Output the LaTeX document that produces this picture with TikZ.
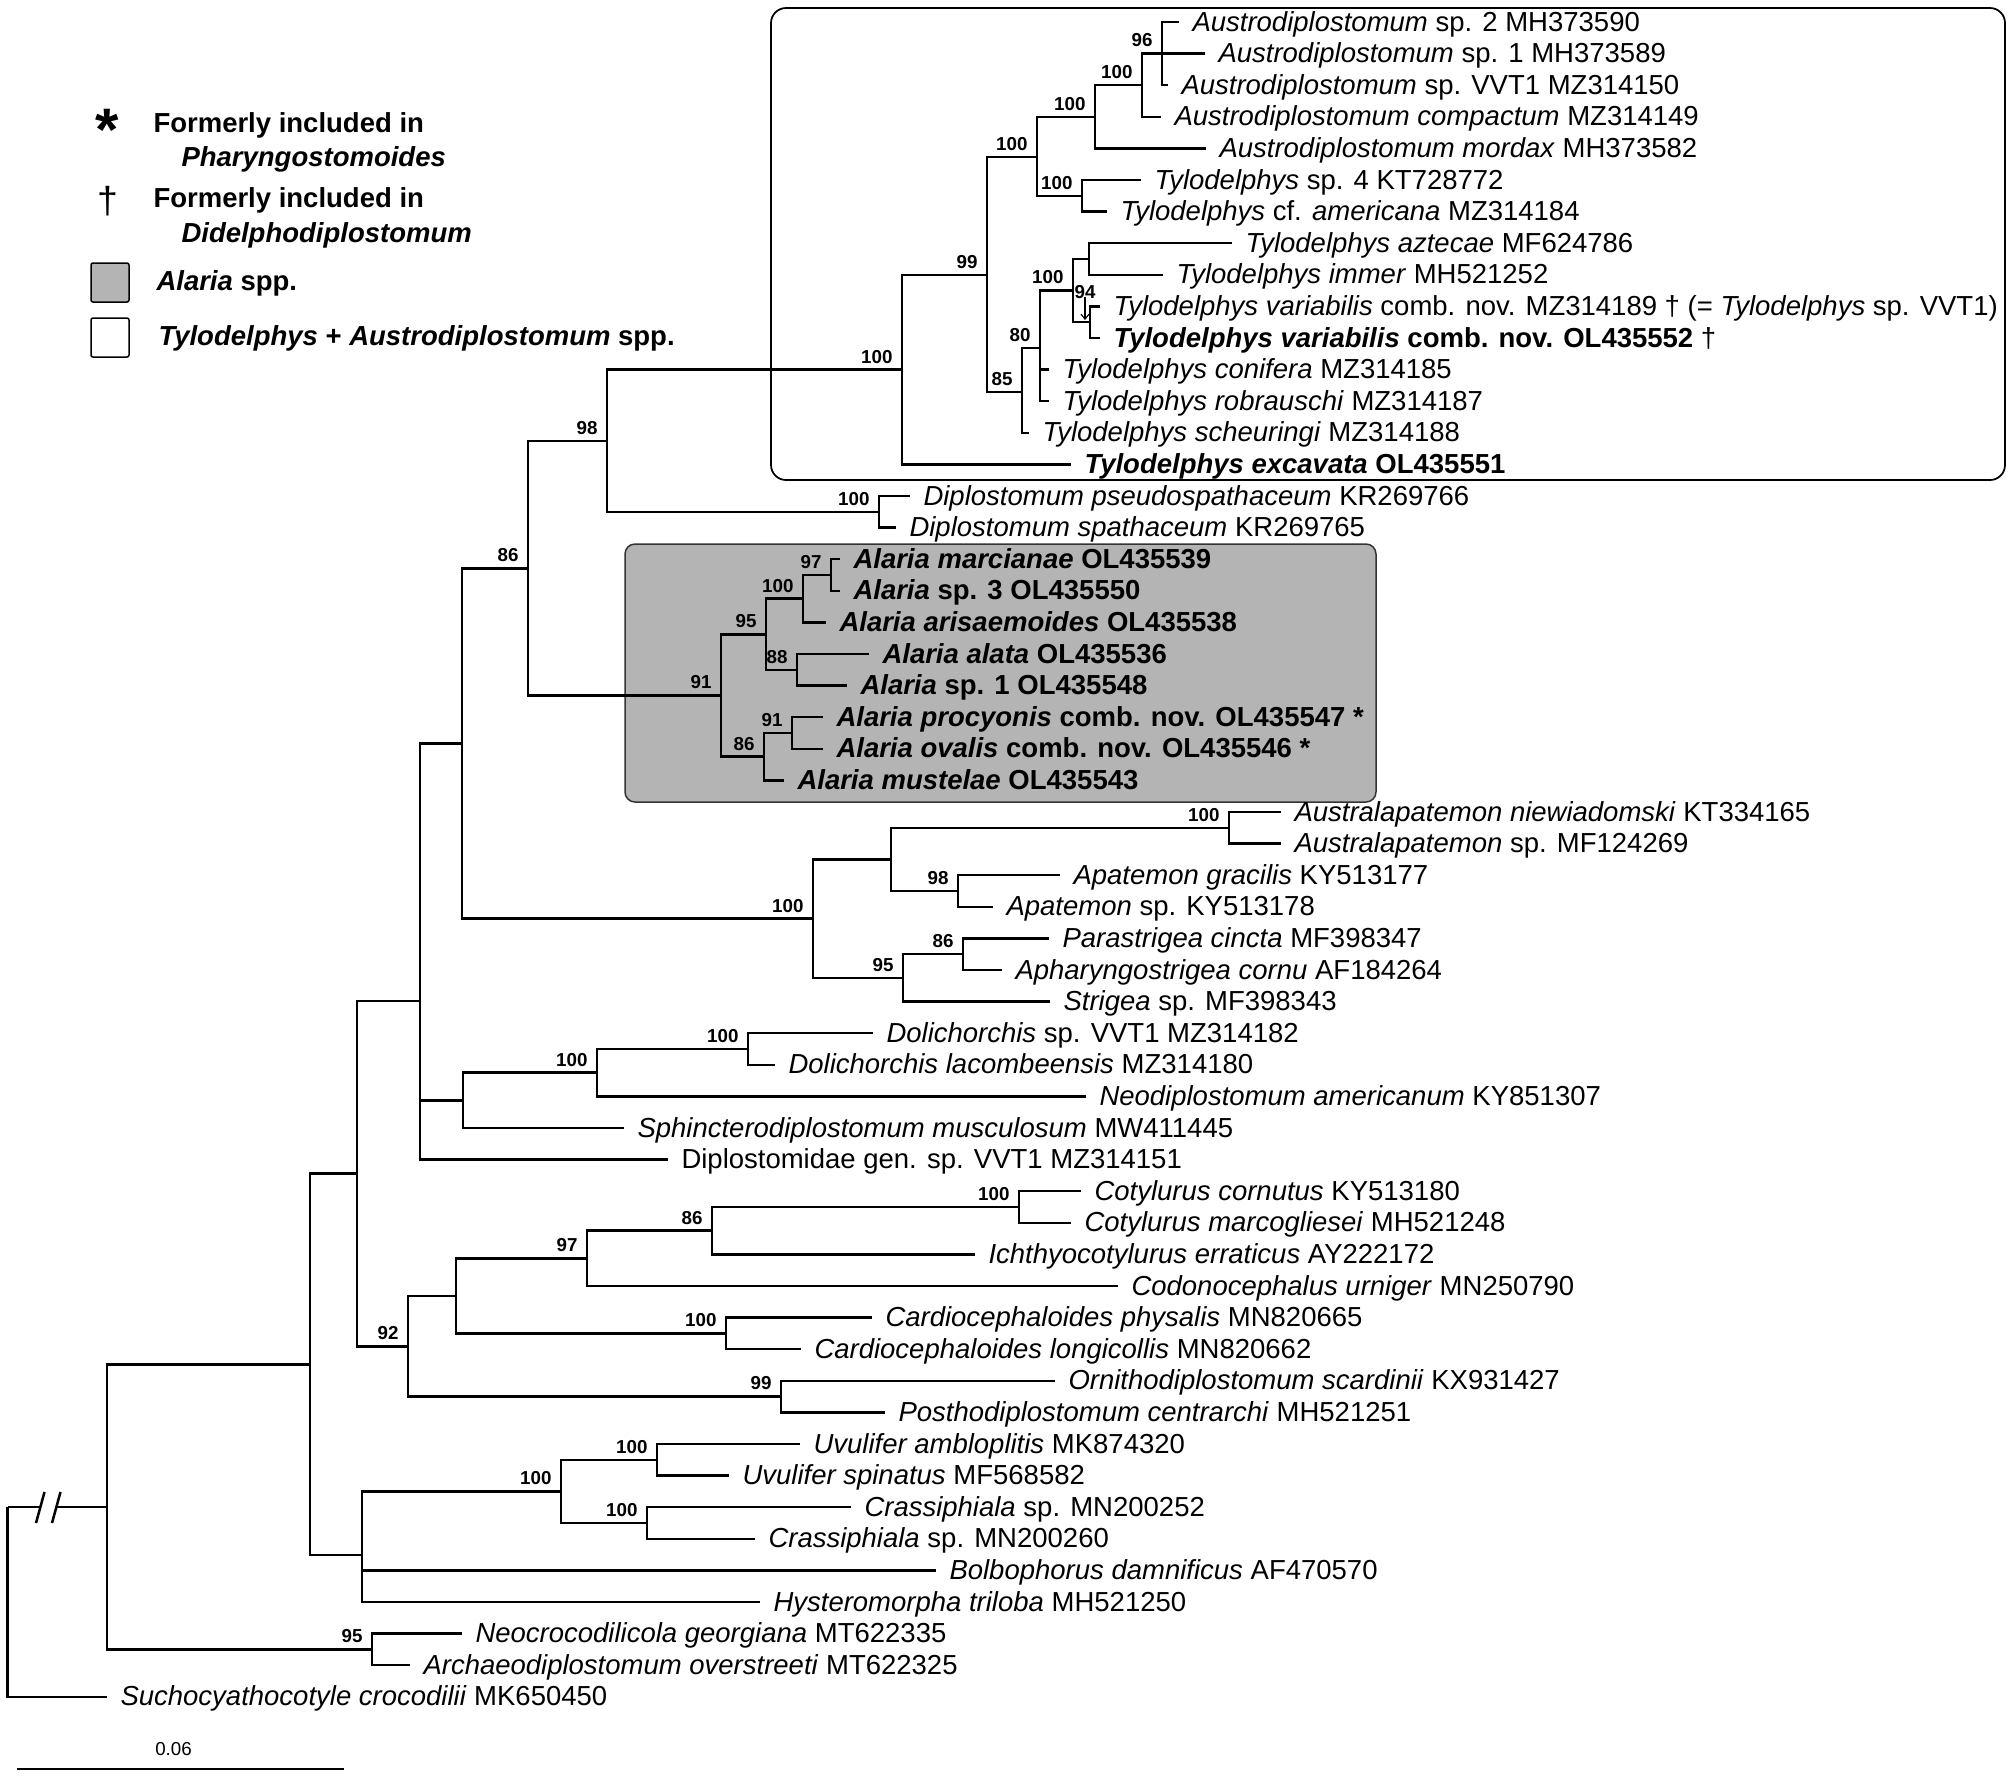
\documentclass[tikz,border=0pt]{standalone}
\usepackage{fontspec}
\setmainfont{Liberation Sans}
\usetikzlibrary{arrows.meta}
\definecolor{boxgray}{RGB}{180,180,180}
\tikzset{
  br/.style={line width=1pt, line join=miter},
  leaflab/.style={anchor=base west, inner sep=0pt, font=\fontsize{11}{13}\selectfont},
  suplab/.style={anchor=south east, inner sep=0pt, font=\fontsize{7.5}{8}\selectfont\bfseries},
  legtext/.style={anchor=base west, inner sep=0pt, font=\fontsize{11}{13}\selectfont\bfseries},
}
\newcommand\lfn[4]{\coordinate (#1) at (#2,#3); \node[leaflab] (#1t) at ([xshift=5.2pt,yshift=-3.6pt]#1) {#4};}
\newcommand\spt[2]{\node[suplab] (s#1) at ([xshift=-3.6pt,yshift=2.4pt]#1) {#2};}
\begin{document}
\begin{tikzpicture}[x=0.4pt,y=-0.4pt]
\useasboundingbox (0,0) rectangle (2013,1776);
\fill[white] (0,0) rectangle (2013,1776);
% boxes
\coordinate (tbA) at (771,8); \coordinate (tbB) at (2005,480);
\draw[line width=0.7pt, fill=white, rounded corners=6pt] (tbA) rectangle (tbB);
\coordinate (abA) at (625,544); \coordinate (abB) at (1376,802);
\draw[line width=0.6pt, draw=black!80, fill=boxgray, rounded corners=4pt] (abA) rectangle (abB);
% legend
\node[anchor=base, inner sep=0pt, font=\fontsize{24}{24}\selectfont\bfseries] (star) at (107,150) {*};
\node[legtext] (lg1) at (153,132) {Formerly included in};
\node[legtext] (lg2) at (181,166) {\textit{Pharyngostomoides}};
\node[anchor=base, inner sep=0pt, font=\fontsize{15}{15}\selectfont] (dag) at (107.5,213) {†};
\node[legtext] (lg3) at (153,207) {Formerly included in};
\node[legtext] (lg4) at (181,242) {\textit{Didelphodiplostomum}};
\coordinate (gbA) at (91,263); \coordinate (gbB) at (129,302);
\draw[line width=0.6pt, fill=boxgray, rounded corners=0.8pt] (gbA) rectangle (gbB);
\node[legtext] (lg5) at (156,290) {\textit{Alaria} spp.};
\coordinate (wbA) at (91,318); \coordinate (wbB) at (129,357);
\draw[line width=0.6pt, fill=white, rounded corners=0.8pt] (wbA) rectangle (wbB);
\node[legtext] (lg6) at (158,345) {\textit{Tylodelphys} + \textit{Austrodiplostomum} spp.};
% internal nodes
\coordinate (r) at (7.5,1507);
\coordinate (n1) at (107,1507);
\coordinate (n2) at (310,1364.4);
\coordinate (n3) at (357,1173.7);
\coordinate (n5) at (420,1001);
\coordinate (p) at (462,743.6);
\coordinate (nx) at (528,568.5);
\coordinate (n98) at (607,441);
\coordinate (n100t) at (902,369.7);
\coordinate (n99) at (987,275);
\coordinate (n100a) at (1037,157);
\coordinate (n100b) at (1095,116.8);
\coordinate (n100c) at (1142,85.2);
\coordinate (n96) at (1162,53.6);
\coordinate (n100d) at (1082,195.8);
\coordinate (n85) at (1022,392);
\coordinate (n80) at (1040,348);
\coordinate (n100e) at (1073,290.6);
\coordinate (nai) at (1089,259);
\coordinate (n94) at (1090,322.2);
\coordinate (n100dip) at (879,511.8);
\coordinate (n91) at (721,695.6);
\coordinate (n95a) at (766,634.5);
\coordinate (n100al) at (803,598.7);
\coordinate (n97al) at (831,575);
\coordinate (n88) at (797,669.8);
\coordinate (n86a) at (764,756.7);
\coordinate (n91b) at (792,733);
\coordinate (n100s) at (813,918.7);
\coordinate (nap) at (891,859.5);
\coordinate (n100aus) at (1229,827.8);
\coordinate (n98ap) at (958,891);
\coordinate (n95s) at (903,977.9);
\coordinate (n86s) at (963,954.2);
\coordinate (n6) at (463,1100.3);
\coordinate (n100dd) at (597,1072.7);
\coordinate (n100dol) at (748,1049);
\coordinate (n92) at (408,1346.3);
\coordinate (na) at (456,1295.9);
\coordinate (n97) at (587,1258.4);
\coordinate (n86c) at (712,1230.7);
\coordinate (n100cot) at (1019,1207);
\coordinate (n100cd) at (726,1333.4);
\coordinate (n99o) at (781,1396.6);
\coordinate (n4) at (362,1555);
\coordinate (n100u) at (561,1491.4);
\coordinate (n100v) at (657,1459.8);
\coordinate (n100w) at (647,1523);
\coordinate (n95c) at (372,1649.4);
% leaves
\lfn{l0}{1179}{22}{\textit{Austrodiplostomum} sp. 2 MH373590}
\lfn{l1}{1205}{53.6}{\textit{Austrodiplostomum} sp. 1 MH373589}
\lfn{l2}{1168}{85.2}{\textit{Austrodiplostomum} sp. VVT1 MZ314150}
\lfn{l3}{1161}{116.8}{\textit{Austrodiplostomum compactum} MZ314149}
\lfn{l4}{1206}{148.4}{\textit{Austrodiplostomum mordax} MH373582}
\lfn{l5}{1141}{180}{\textit{Tylodelphys} sp. 4 KT728772}
\lfn{l6}{1107}{211.6}{\textit{Tylodelphys} cf. \textit{americana} MZ314184}
\lfn{l7}{1232}{243.2}{\textit{Tylodelphys aztecae} MF624786}
\lfn{l8}{1163}{274.8}{\textit{Tylodelphys immer} MH521252}
\lfn{l9}{1100}{306.4}{\textit{Tylodelphys variabilis} comb. nov. MZ314189 † (= \textit{Tylodelphys} sp. VVT1)}
\lfn{l10}{1100}{338}{\textbf{\textit{Tylodelphys variabilis} comb. nov. OL435552} †}
\lfn{l11}{1049}{369.6}{\textit{Tylodelphys conifera} MZ314185}
\lfn{l12}{1049}{401.2}{\textit{Tylodelphys robrauschi} MZ314187}
\lfn{l13}{1029}{432.8}{\textit{Tylodelphys scheuringi} MZ314188}
\lfn{l14}{1071}{464.4}{\textbf{\textit{Tylodelphys excavata} OL435551}}
\lfn{l15}{910}{496}{\textit{Diplostomum pseudospathaceum} KR269766}
\lfn{l16}{896}{527.6}{\textit{Diplostomum spathaceum} KR269765}
\lfn{l17}{840}{559.2}{\textbf{\textit{Alaria marcianae} OL435539}}
\lfn{l18}{840}{590.8}{\textbf{\textit{Alaria} sp. 3 OL435550}}
\lfn{l19}{826}{622.4}{\textbf{\textit{Alaria arisaemoides} OL435538}}
\lfn{l20}{869}{654}{\textbf{\textit{Alaria alata} OL435536}}
\lfn{l21}{847}{685.6}{\textbf{\textit{Alaria} sp. 1 OL435548}}
\lfn{l22}{823}{717.2}{\textbf{\textit{Alaria procyonis} comb. nov. OL435547 *}}
\lfn{l23}{823}{748.8}{\textbf{\textit{Alaria ovalis} comb. nov. OL435546 *}}
\lfn{l24}{784}{780.4}{\textbf{\textit{Alaria mustelae} OL435543}}
\lfn{l25}{1281}{812}{\textit{Australapatemon niewiadomski} KT334165}
\lfn{l26}{1281}{843.6}{\textit{Australapatemon} sp. MF124269}
\lfn{l27}{1060}{875.2}{\textit{Apatemon gracilis} KY513177}
\lfn{l28}{993}{906.8}{\textit{Apatemon} sp. KY513178}
\lfn{l29}{1049}{938.4}{\textit{Parastrigea cincta} MF398347}
\lfn{l30}{1002}{970}{\textit{Apharyngostrigea cornu} AF184264}
\lfn{l31}{1050}{1001.6}{\textit{Strigea} sp. MF398343}
\lfn{l32}{873}{1033.2}{\textit{Dolichorchis} sp. VVT1 MZ314182}
\lfn{l33}{775}{1064.8}{\textit{Dolichorchis lacombeensis} MZ314180}
\lfn{l34}{1086}{1096.4}{\textit{Neodiplostomum americanum} KY851307}
\lfn{l35}{624}{1128}{\textit{Sphincterodiplostomum musculosum} MW411445}
\lfn{l36}{668}{1159.6}{Diplostomidae gen. sp. VVT1 MZ314151}
\lfn{l37}{1081}{1191.2}{\textit{Cotylurus cornutus} KY513180}
\lfn{l38}{1071}{1222.8}{\textit{Cotylurus marcogliesei} MH521248}
\lfn{l39}{975}{1254.4}{\textit{Ichthyocotylurus erraticus} AY222172}
\lfn{l40}{1118}{1286}{\textit{Codonocephalus urniger} MN250790}
\lfn{l41}{872}{1317.6}{\textit{Cardiocephaloides physalis} MN820665}
\lfn{l42}{801}{1349.2}{\textit{Cardiocephaloides longicollis} MN820662}
\lfn{l43}{1055}{1380.8}{\textit{Ornithodiplostomum scardinii} KX931427}
\lfn{l44}{885}{1412.4}{\textit{Posthodiplostomum centrarchi} MH521251}
\lfn{l45}{800}{1444}{\textit{Uvulifer ambloplitis} MK874320}
\lfn{l46}{729}{1475.6}{\textit{Uvulifer spinatus} MF568582}
\lfn{l47}{851}{1507.2}{\textit{Crassiphiala} sp. MN200252}
\lfn{l48}{755}{1538.8}{\textit{Crassiphiala} sp. MN200260}
\lfn{l49}{936}{1570.4}{\textit{Bolbophorus damnificus} AF470570}
\lfn{l50}{760}{1602}{\textit{Hysteromorpha triloba} MH521250}
\lfn{l51}{462}{1633.6}{\textit{Neocrocodilicola georgiana} MT622335}
\lfn{l52}{410}{1665.2}{\textit{Archaeodiplostomum overstreeti} MT622325}
\lfn{l53}{107}{1696.8}{\textit{Suchocyathocotyle crocodilii} MK650450}
% branches
\coordinate (bk1) at (40,1507); \coordinate (bk2) at (57,1507);
\draw[br] (r) -- (bk1);
\draw[br] (bk2) -- (n1);
\coordinate (sl1a) at (36,1523); \coordinate (sl1b) at (44.5,1492);
\coordinate (sl2a) at (52,1523); \coordinate (sl2b) at (60.5,1492);
\draw[br] (sl1a) -- (sl1b);
\draw[br] (sl2a) -- (sl2b);
\draw[br] (r) |- (l53);
\draw[br] (n1) |- (n2); \draw[br] (n1) |- (n95c);
\draw[br] (n2) |- (n3); \draw[br] (n2) |- (n4);
\draw[br] (n3) |- (n5); \draw[br] (n3) |- (n92);
\draw[br] (n5) |- (p); \draw[br] (n5) |- (n6); \draw[br] (n5) |- (l36);
\draw[br] (p) |- (nx); \draw[br] (p) |- (n100s);
\draw[br] (nx) |- (n98); \draw[br] (nx) |- (n91);
\draw[br] (n98) |- (n100t); \draw[br] (n98) |- (n100dip);
\draw[br] (n100t) |- (n99); \draw[br] (n100t) |- (l14);
\draw[br] (n99) |- (n100a); \draw[br] (n99) |- (n85);
\draw[br] (n100a) |- (n100b); \draw[br] (n100a) |- (n100d);
\draw[br] (n100b) |- (n100c); \draw[br] (n100b) |- (l4);
\draw[br] (n100c) |- (n96); \draw[br] (n100c) |- (l3);
\draw[br] (n96) |- (l0); \draw[br] (n96) |- (l1); \draw[br] (n96) |- (l2);
\draw[br] (n100d) |- (l5); \draw[br] (n100d) |- (l6);
\draw[br] (n85) |- (n80); \draw[br] (n85) |- (l13);
\draw[br] (n80) |- (n100e); \draw[br] (n80) |- (l11); \draw[br] (n80) |- (l12);
\draw[br] (n100e) |- (nai); \draw[br] (n100e) |- (n94);
\draw[br] (nai) |- (l7); \draw[br] (nai) |- (l8);
\draw[br] (n94) |- (l9); \draw[br] (n94) |- (l10);
\draw[br] (n100dip) |- (l15); \draw[br] (n100dip) |- (l16);
\draw[br] (n91) |- (n95a); \draw[br] (n91) |- (n86a);
\draw[br] (n95a) |- (n100al); \draw[br] (n95a) |- (n88);
\draw[br] (n100al) |- (n97al); \draw[br] (n100al) |- (l19);
\draw[br] (n97al) |- (l17); \draw[br] (n97al) |- (l18);
\draw[br] (n88) |- (l20); \draw[br] (n88) |- (l21);
\draw[br] (n86a) |- (n91b); \draw[br] (n86a) |- (l24);
\draw[br] (n91b) |- (l22); \draw[br] (n91b) |- (l23);
\draw[br] (n100s) |- (nap); \draw[br] (n100s) |- (n95s);
\draw[br] (nap) |- (n100aus); \draw[br] (nap) |- (n98ap);
\draw[br] (n100aus) |- (l25); \draw[br] (n100aus) |- (l26);
\draw[br] (n98ap) |- (l27); \draw[br] (n98ap) |- (l28);
\draw[br] (n95s) |- (n86s); \draw[br] (n95s) |- (l31);
\draw[br] (n86s) |- (l29); \draw[br] (n86s) |- (l30);
\draw[br] (n6) |- (n100dd); \draw[br] (n6) |- (l35);
\draw[br] (n100dd) |- (n100dol); \draw[br] (n100dd) |- (l34);
\draw[br] (n100dol) |- (l32); \draw[br] (n100dol) |- (l33);
\draw[br] (n92) |- (na); \draw[br] (n92) |- (n99o);
\draw[br] (na) |- (n97); \draw[br] (na) |- (n100cd);
\draw[br] (n97) |- (n86c); \draw[br] (n97) |- (l40);
\draw[br] (n86c) |- (n100cot); \draw[br] (n86c) |- (l39);
\draw[br] (n100cot) |- (l37); \draw[br] (n100cot) |- (l38);
\draw[br] (n100cd) |- (l41); \draw[br] (n100cd) |- (l42);
\draw[br] (n99o) |- (l43); \draw[br] (n99o) |- (l44);
\draw[br] (n4) |- (n100u); \draw[br] (n4) |- (l49); \draw[br] (n4) |- (l50);
\draw[br] (n100u) |- (n100v); \draw[br] (n100u) |- (n100w);
\draw[br] (n100v) |- (l45); \draw[br] (n100v) |- (l46);
\draw[br] (n100w) |- (l47); \draw[br] (n100w) |- (l48);
\draw[br] (n95c) |- (l51); \draw[br] (n95c) |- (l52);
% support values
\spt{n100t}{100} \spt{n99}{99} \spt{n100a}{100} \spt{n100b}{100}
\spt{n100c}{100} \spt{n96}{96} \spt{n100d}{100} \spt{n85}{85}
\spt{n80}{80} \spt{n100e}{100} \spt{n100dip}{100} \spt{n98}{98}
\spt{nx}{86} \spt{n91}{91} \spt{n95a}{95} \spt{n100al}{100}
\spt{n97al}{97} \spt{n88}{88} \spt{n86a}{86} \spt{n91b}{91}
\spt{n100s}{100} \spt{n100aus}{100} \spt{n98ap}{98} \spt{n95s}{95}
\spt{n86s}{86} \spt{n100dd}{100} \spt{n100dol}{100} \spt{n92}{92}
\spt{n97}{97} \spt{n86c}{86} \spt{n100cot}{100} \spt{n100cd}{100}
\spt{n99o}{99} \spt{n100u}{100} \spt{n100v}{100} \spt{n100w}{100}
\spt{n95c}{95}
\node[inner sep=0pt, font=\fontsize{7.5}{8}\selectfont\bfseries] (s94) at (1085,292) {94};
\coordinate (a94) at (1085,320);
\draw[line width=0.45pt, -{Straight Barb[length=2pt,width=3.2pt]}] (s94.south) ++(0,-2) -- (a94);
% scale bar
\coordinate (sb1) at (17,1769); \coordinate (sb2) at (344,1769);
\draw[line width=1pt] (sb1) -- (sb2);
\node[inner sep=0pt, font=\fontsize{7.5}{8}\selectfont] (sbl) at (173.5,1749) {0.06};
\end{tikzpicture}
\end{document}
